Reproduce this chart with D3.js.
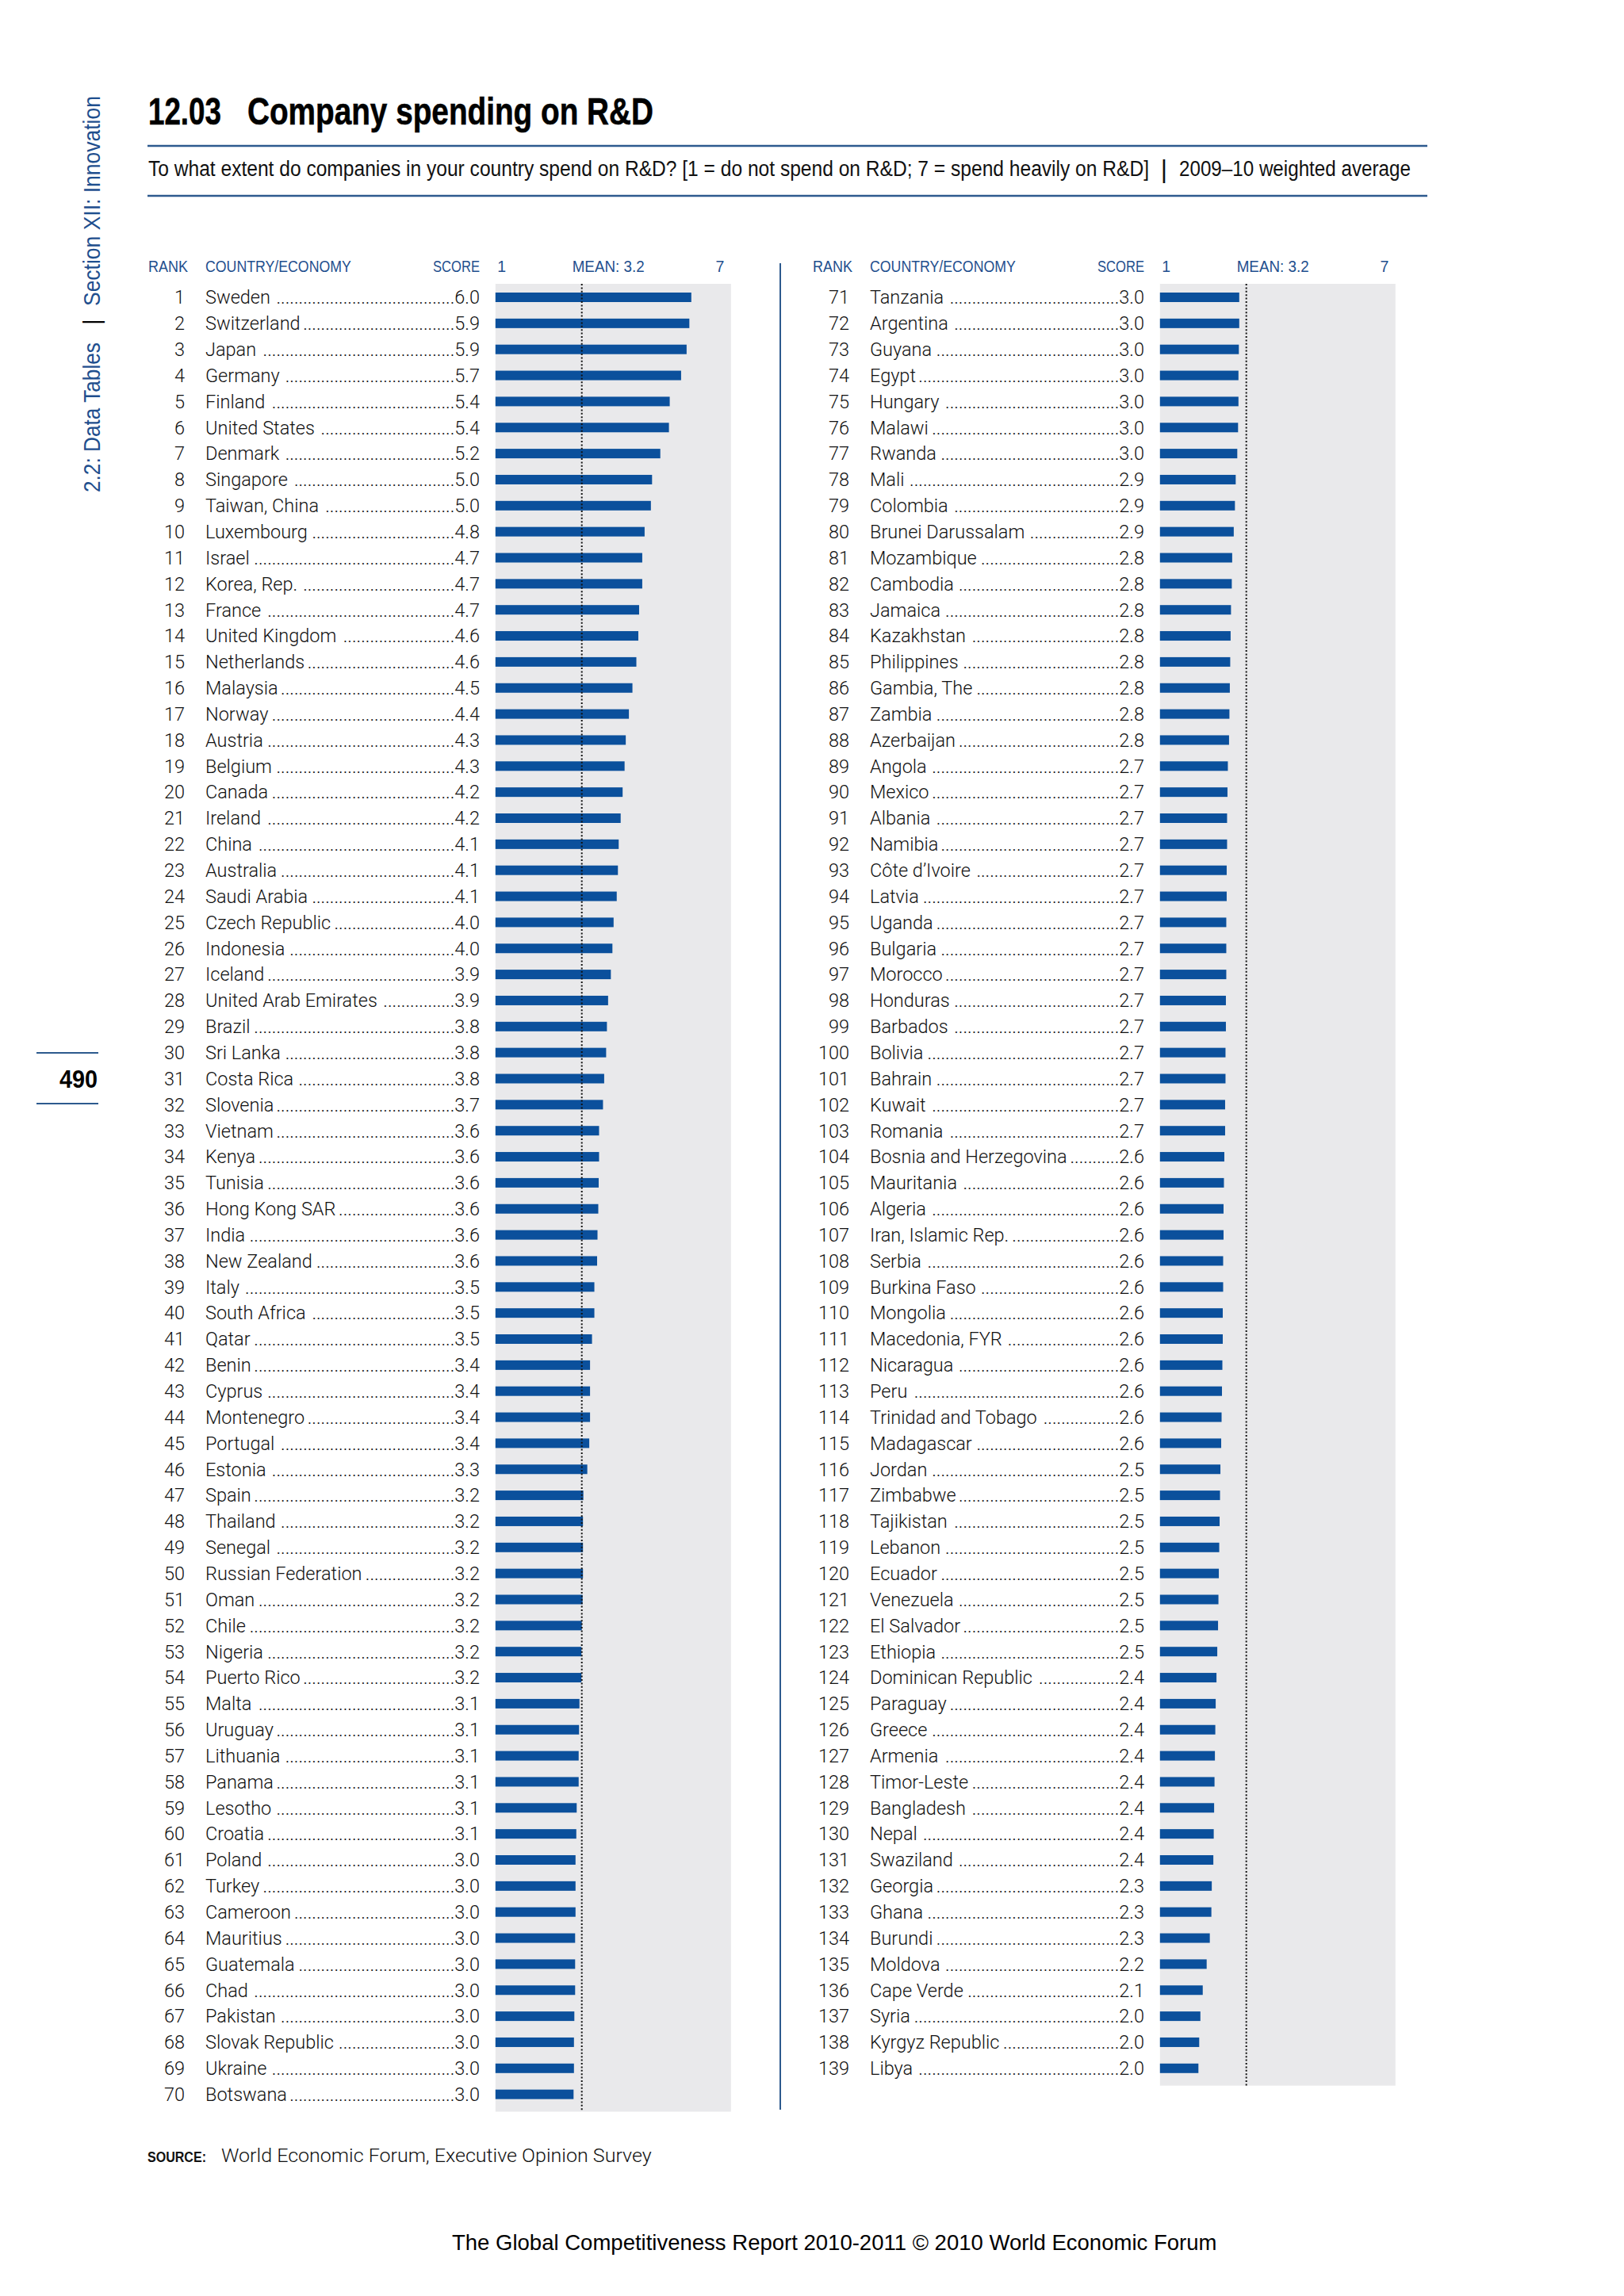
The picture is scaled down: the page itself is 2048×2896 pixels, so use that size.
<!DOCTYPE html>
<html><head><meta charset="utf-8">
<script src="https://cdn.jsdelivr.net/npm/d3@7"></script>
<style>
html,body{margin:0;padding:0;background:#fff;}
svg{display:block;}
</style></head>
<body>
<svg id="chart" width="2048" height="2896"></svg>
<script>
// ---------------- DATA ----------------
const countries = [
"Sweden","Switzerland","Japan","Germany","Finland","United States","Denmark","Singapore","Taiwan, China","Luxembourg",
"Israel","Korea, Rep.","France","United Kingdom","Netherlands","Malaysia","Norway","Austria","Belgium","Canada",
"Ireland","China","Australia","Saudi Arabia","Czech Republic","Indonesia","Iceland","United Arab Emirates","Brazil","Sri Lanka",
"Costa Rica","Slovenia","Vietnam","Kenya","Tunisia","Hong Kong SAR","India","New Zealand","Italy","South Africa",
"Qatar","Benin","Cyprus","Montenegro","Portugal","Estonia","Spain","Thailand","Senegal","Russian Federation",
"Oman","Chile","Nigeria","Puerto Rico","Malta","Uruguay","Lithuania","Panama","Lesotho","Croatia",
"Poland","Turkey","Cameroon","Mauritius","Guatemala","Chad","Pakistan","Slovak Republic","Ukraine","Botswana",
"Tanzania","Argentina","Guyana","Egypt","Hungary","Malawi","Rwanda","Mali","Colombia","Brunei Darussalam",
"Mozambique","Cambodia","Jamaica","Kazakhstan","Philippines","Gambia, The","Zambia","Azerbaijan","Angola","Mexico",
"Albania","Namibia","Côte d’Ivoire","Latvia","Uganda","Bulgaria","Morocco","Honduras","Barbados","Bolivia",
"Bahrain","Kuwait","Romania","Bosnia and Herzegovina","Mauritania","Algeria","Iran, Islamic Rep.","Serbia","Burkina Faso","Mongolia",
"Macedonia, FYR","Nicaragua","Peru","Trinidad and Tobago","Madagascar","Jordan","Zimbabwe","Tajikistan","Lebanon","Ecuador",
"Venezuela","El Salvador","Ethiopia","Dominican Republic","Paraguay","Greece","Armenia","Timor-Leste","Bangladesh","Nepal",
"Swaziland","Georgia","Ghana","Burundi","Moldova","Cape Verde","Syria","Kyrgyz Republic","Libya"
];
const scores = [
5.99,5.94,5.87,5.73,5.44,5.42,5.20,4.99,4.96,4.80,
4.74,4.74,4.66,4.64,4.59,4.49,4.40,4.32,4.29,4.24,
4.19,4.14,4.12,4.09,4.01,3.98,3.94,3.87,3.84,3.82,
3.77,3.74,3.64,3.64,3.63,3.62,3.60,3.59,3.52,3.52,
3.46,3.41,3.41,3.41,3.39,3.34,3.24,3.23,3.23,3.23,
3.22,3.20,3.19,3.19,3.14,3.13,3.12,3.12,3.07,3.06,
3.04,3.04,3.04,3.03,3.03,3.03,3.01,3.00,3.00,2.99,
3.02,3.02,3.01,3.00,3.00,2.99,2.97,2.93,2.91,2.88,
2.84,2.83,2.81,2.80,2.79,2.78,2.77,2.76,2.73,2.72,
2.71,2.71,2.70,2.70,2.69,2.69,2.69,2.68,2.68,2.67,
2.67,2.66,2.66,2.64,2.63,2.62,2.62,2.61,2.61,2.60,
2.60,2.59,2.58,2.57,2.56,2.54,2.53,2.52,2.51,2.50,
2.49,2.48,2.46,2.44,2.42,2.41,2.40,2.39,2.38,2.37,
2.36,2.32,2.31,2.27,2.19,2.09,2.03,2.00,1.98
];
const scaleDomain = [1, 7];
const meanScore = 3.2;
const headerLabels = ["RANK", "COUNTRY/ECONOMY", "SCORE"];
const meanLabel = "MEAN: 3.2";
const titleNumber = "12.03";
const titleText = "Company spending on R&D";
const subtitleParts = ["To what extent do companies in your country spend on R&D? [1 = do not spend on R&D; 7 = spend heavily on R&D]", "|", "2009–10 weighted average"];
const sideLabels = ["2.2: Data Tables", "|", "Section XII: Innovation"];
const pageNumber = "490";
const sourceLabel = "SOURCE:";
const sourceText = "World Economic Forum, Executive Opinion Survey";
const footerText = "The Global Competitiveness Report 2010-2011 © 2010 World Economic Forum";

// ---------------- STYLE ----------------
const BLUE = "#1f4f8e";
const LINE_BLUE = "#2d5a8e";
const BAR = "#0b509c";
const PANEL = "#e9e9eb";
const INK = "#111";
const BODY_FONT = "Roboto, 'Liberation Sans', Arial, sans-serif";
const SANS = "'Liberation Sans', Arial, Helvetica, sans-serif";

const svg = d3.select("#chart");
svg.append("rect").attr("width", 2048).attr("height", 2896).attr("fill", "#fff");

// helper: place text so its width equals `target` by horizontal scaling
function fitText(parent, str, x, y, target, attrs, extra) {
  const t = parent.append("text").attr("x", 0).attr("y", 0).text(str);
  Object.entries(attrs).forEach(([k, v]) => t.attr(k, v));
  const w = t.node().getComputedTextLength();
  t.attr("transform", `translate(${x},${y})${extra || ""} scale(${target / w},1)`);
  return t;
}

// Title
const titleAttrs = {"font-family": SANS, "font-weight": "bold", "font-size": 49, "fill": "#000", "stroke": "#000", "stroke-width": 0.6};
fitText(svg, titleNumber, 187, 157, 92, titleAttrs);
fitText(svg, titleText, 312, 157, 512, titleAttrs);
[184, 247].forEach(yy => svg.append("line").attr("x1", 186).attr("x2", 1800).attr("y1", yy).attr("y2", yy)
  .attr("stroke", LINE_BLUE).attr("stroke-width", 2.5));
const subAttrs = {"font-family": SANS, "font-size": 28, "fill": "#111"};
fitText(svg, subtitleParts[0], 187, 222, 1263, subAttrs);
svg.append("text").attr("x", 1468).attr("y", 224).attr("text-anchor", "middle").attr("font-family", SANS).attr("font-size", 32)
  .attr("fill", "#111").text(subtitleParts[1]);
fitText(svg, subtitleParts[2], 1487, 222, 292, subAttrs);

// Side label (rotated)
const sideAttrs = {"font-family": SANS, "font-size": 30, "fill": BLUE};
fitText(svg, sideLabels[0], 126, 621, 189, sideAttrs, " rotate(-90)");
svg.append("text").attr("transform", "translate(126,410) rotate(-90)").attr("font-family", SANS).attr("font-size", 30)
  .attr("fill", "#000").text(sideLabels[1]);
fitText(svg, sideLabels[2], 126, 386, 265, sideAttrs, " rotate(-90)");

// Page number
[1328, 1392].forEach(yy => svg.append("line").attr("x1", 46).attr("x2", 124).attr("y1", yy).attr("y2", yy)
  .attr("stroke", LINE_BLUE).attr("stroke-width", 2));
fitText(svg, pageNumber, 75, 1372, 48, {"font-family": SANS, "font-weight": "bold", "font-size": 31, "fill": "#000"});

// Column separator
svg.append("line").attr("x1", 984).attr("x2", 984).attr("y1", 332).attr("y2", 2661)
  .attr("stroke", LINE_BLUE).attr("stroke-width", 2);

// ---------------- TABLE COLUMNS ----------------
const ROW0 = 375, STEP = 32.85, BAR_H = 12, PANEL_TOP = 358;
const columns = [{start: 0, end: 70, dx: 0}, {start: 70, end: 139, dx: 838}];
const fmt = d3.format(".1f");

// dot width measurement
const probe = svg.append("text").attr("font-family", BODY_FONT).attr("font-weight", 300).attr("font-size", 23.5).text("..........");
const dotW = probe.node().getComputedTextLength() / 10;
probe.remove();

columns.forEach(col => {
  const rows = countries.slice(col.start, col.end).map((c, i) => ({
    rank: col.start + i + 1, name: c, value: scores[col.start + i], i
  }));
  const g = svg.append("g").attr("transform", `translate(${col.dx},0)`);
  const x = d3.scaleLinear().domain(scaleDomain).range([624.8, 921.8]);
  const y = d3.scaleLinear().domain([0, 1]).range([ROW0, ROW0 + STEP]);
  const panelBottom = PANEL_TOP + rows.length * STEP + 6;

  // headers
  const hAttrs = {"font-family": SANS, "font-size": 19.5, "fill": BLUE};
  fitText(g, headerLabels[0], 187, 343, 50, hAttrs);
  fitText(g, headerLabels[1], 259, 343, 184, hAttrs);
  fitText(g, headerLabels[2], 546, 343, 59, hAttrs);
  fitText(g, meanLabel, x(meanScore) - 12, 343, 91, hAttrs);

  const axisG = g.append("g").attr("transform", "translate(0,343)")
    .call(d3.axisTop(x).tickValues(scaleDomain).tickSize(0).tickPadding(0).tickFormat(d3.format("d")));
  axisG.select(".domain").remove();
  axisG.attr("font-family", SANS).attr("font-size", 19.5);
  axisG.selectAll("text").attr("fill", BLUE)
    .attr("text-anchor", (d, k) => k === 0 ? "start" : "end")
    .attr("dx", (d, k) => k === 0 ? 2 : -9);

  // panel
  g.append("rect").attr("x", x(1)).attr("y", PANEL_TOP).attr("width", x(7) - x(1))
    .attr("height", panelBottom - PANEL_TOP).attr("fill", PANEL);

  // bars
  g.selectAll("rect.bar").data(rows).join("rect").attr("class", "bar")
    .attr("x", x(1)).attr("y", d => y(d.i) - BAR_H / 2)
    .attr("width", d => x(d.value) - x(1)).attr("height", BAR_H).attr("fill", BAR);

  // mean line
  g.append("line").attr("x1", x(meanScore)).attr("x2", x(meanScore))
    .attr("y1", PANEL_TOP).attr("y2", panelBottom)
    .attr("stroke", "#111").attr("stroke-width", 2).attr("stroke-dasharray", "2 2.4");

  // text rows
  const tg = g.append("g").attr("font-family", BODY_FONT).attr("font-weight", 300).attr("font-size", 23.5).attr("fill", INK);
  rows.forEach(d => {
    const by = y(d.i) + 8.3;
    tg.append("text").attr("x", 233).attr("y", by).attr("text-anchor", "end").text(d.rank);
    const nm = tg.append("text").attr("x", 259).attr("y", by).text(d.name);
    const nameW = nm.node().getComputedTextLength();
    const sc = tg.append("text").attr("x", 605).attr("y", by).attr("text-anchor", "end").text(fmt(d.value));
    const scW = sc.node().getComputedTextLength();
    const avail = (605 - scW) - (259 + nameW + 3);
    const n = Math.max(0, Math.floor(avail / dotW));
    tg.append("text").attr("x", 605 - scW).attr("y", by).attr("text-anchor", "end").text(".".repeat(n));
  });
});

// Source
fitText(svg, sourceLabel, 186, 2727, 74, {"font-family": SANS, "font-weight": "bold", "font-size": 18, "fill": "#111"});
fitText(svg, sourceText, 279, 2727, 543, {"font-family": BODY_FONT, "font-weight": 300, "font-size": 23.5, "fill": INK});

// Footer
fitText(svg, footerText, 570, 2838, 965, {"font-family": SANS, "font-size": 27, "fill": "#000"});
</script>
</body></html>
